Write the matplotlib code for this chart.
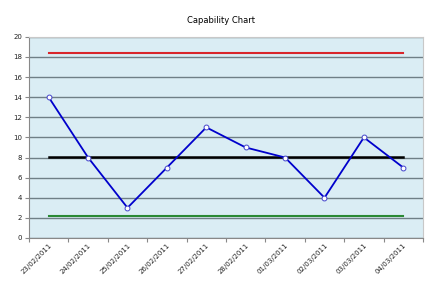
import matplotlib.pyplot as plt
import numpy as np

dates = ['23/02/2011', '24/02/2011', '25/02/2011', '26/02/2011', '27/02/2011',
         '28/02/2011', '01/03/2011', '02/03/2011', '03/03/2011', '04/03/2011']
values = [14, 8, 3, 7, 11, 9, 8, 4, 10, 7]
ucl = [18.4] * len(dates)
mean = [8.1] * len(dates)
lcl = [2.2] * len(dates)

fig = plt.figure(figsize=(4.42, 2.86), dpi=100)
ax = fig.add_axes([0.0656, 0.168, 0.8914, 0.703])
ax.set_facecolor('#daedf4')

x = np.arange(len(dates))
ax.plot(x, ucl, color='#d9262b', lw=1.5, zorder=3)
ax.plot(x, mean, color='black', lw=1.8, zorder=3)
ax.plot(x, lcl, color='#2a8a35', lw=1.5, zorder=3)
ax.plot(x, values, color='#0000cc', lw=1.3, marker='o', ms=3.5,
        mfc='white', mec='#4444cc', mew=0.7, zorder=4)

ax.set_xlim(-0.5, len(dates) - 0.5)
ax.set_ylim(0, 20)
ax.set_yticks(range(0, 21, 2))
ax.yaxis.grid(True, color='#6f7f86', lw=1.0)
ax.set_axisbelow(True)

ax.set_xticks(np.arange(len(dates) + 1) - 0.5)
ax.set_xticklabels([])
ax.set_xticks(x, minor=True)
ax.set_xticklabels(dates, minor=True, rotation=45, ha='right', va='top',
                   rotation_mode='anchor', fontsize=5, color='#222222')
ax.tick_params(axis='x', which='minor', length=0, pad=3)
ax.tick_params(axis='x', which='major', length=3, color='#888888')
ax.tick_params(axis='y', labelsize=5, length=3, color='#888888', labelcolor='#222222', pad=2)

for s in ['top', 'right']:
    ax.spines[s].set_color('#c8c8c8')
for s in ['left', 'bottom']:
    ax.spines[s].set_color('#888888')

fig.text(0.5, 0.93, 'Capability Chart', ha='center', va='center', fontsize=6, color='black')

fig.savefig('out.png', dpi=100)
